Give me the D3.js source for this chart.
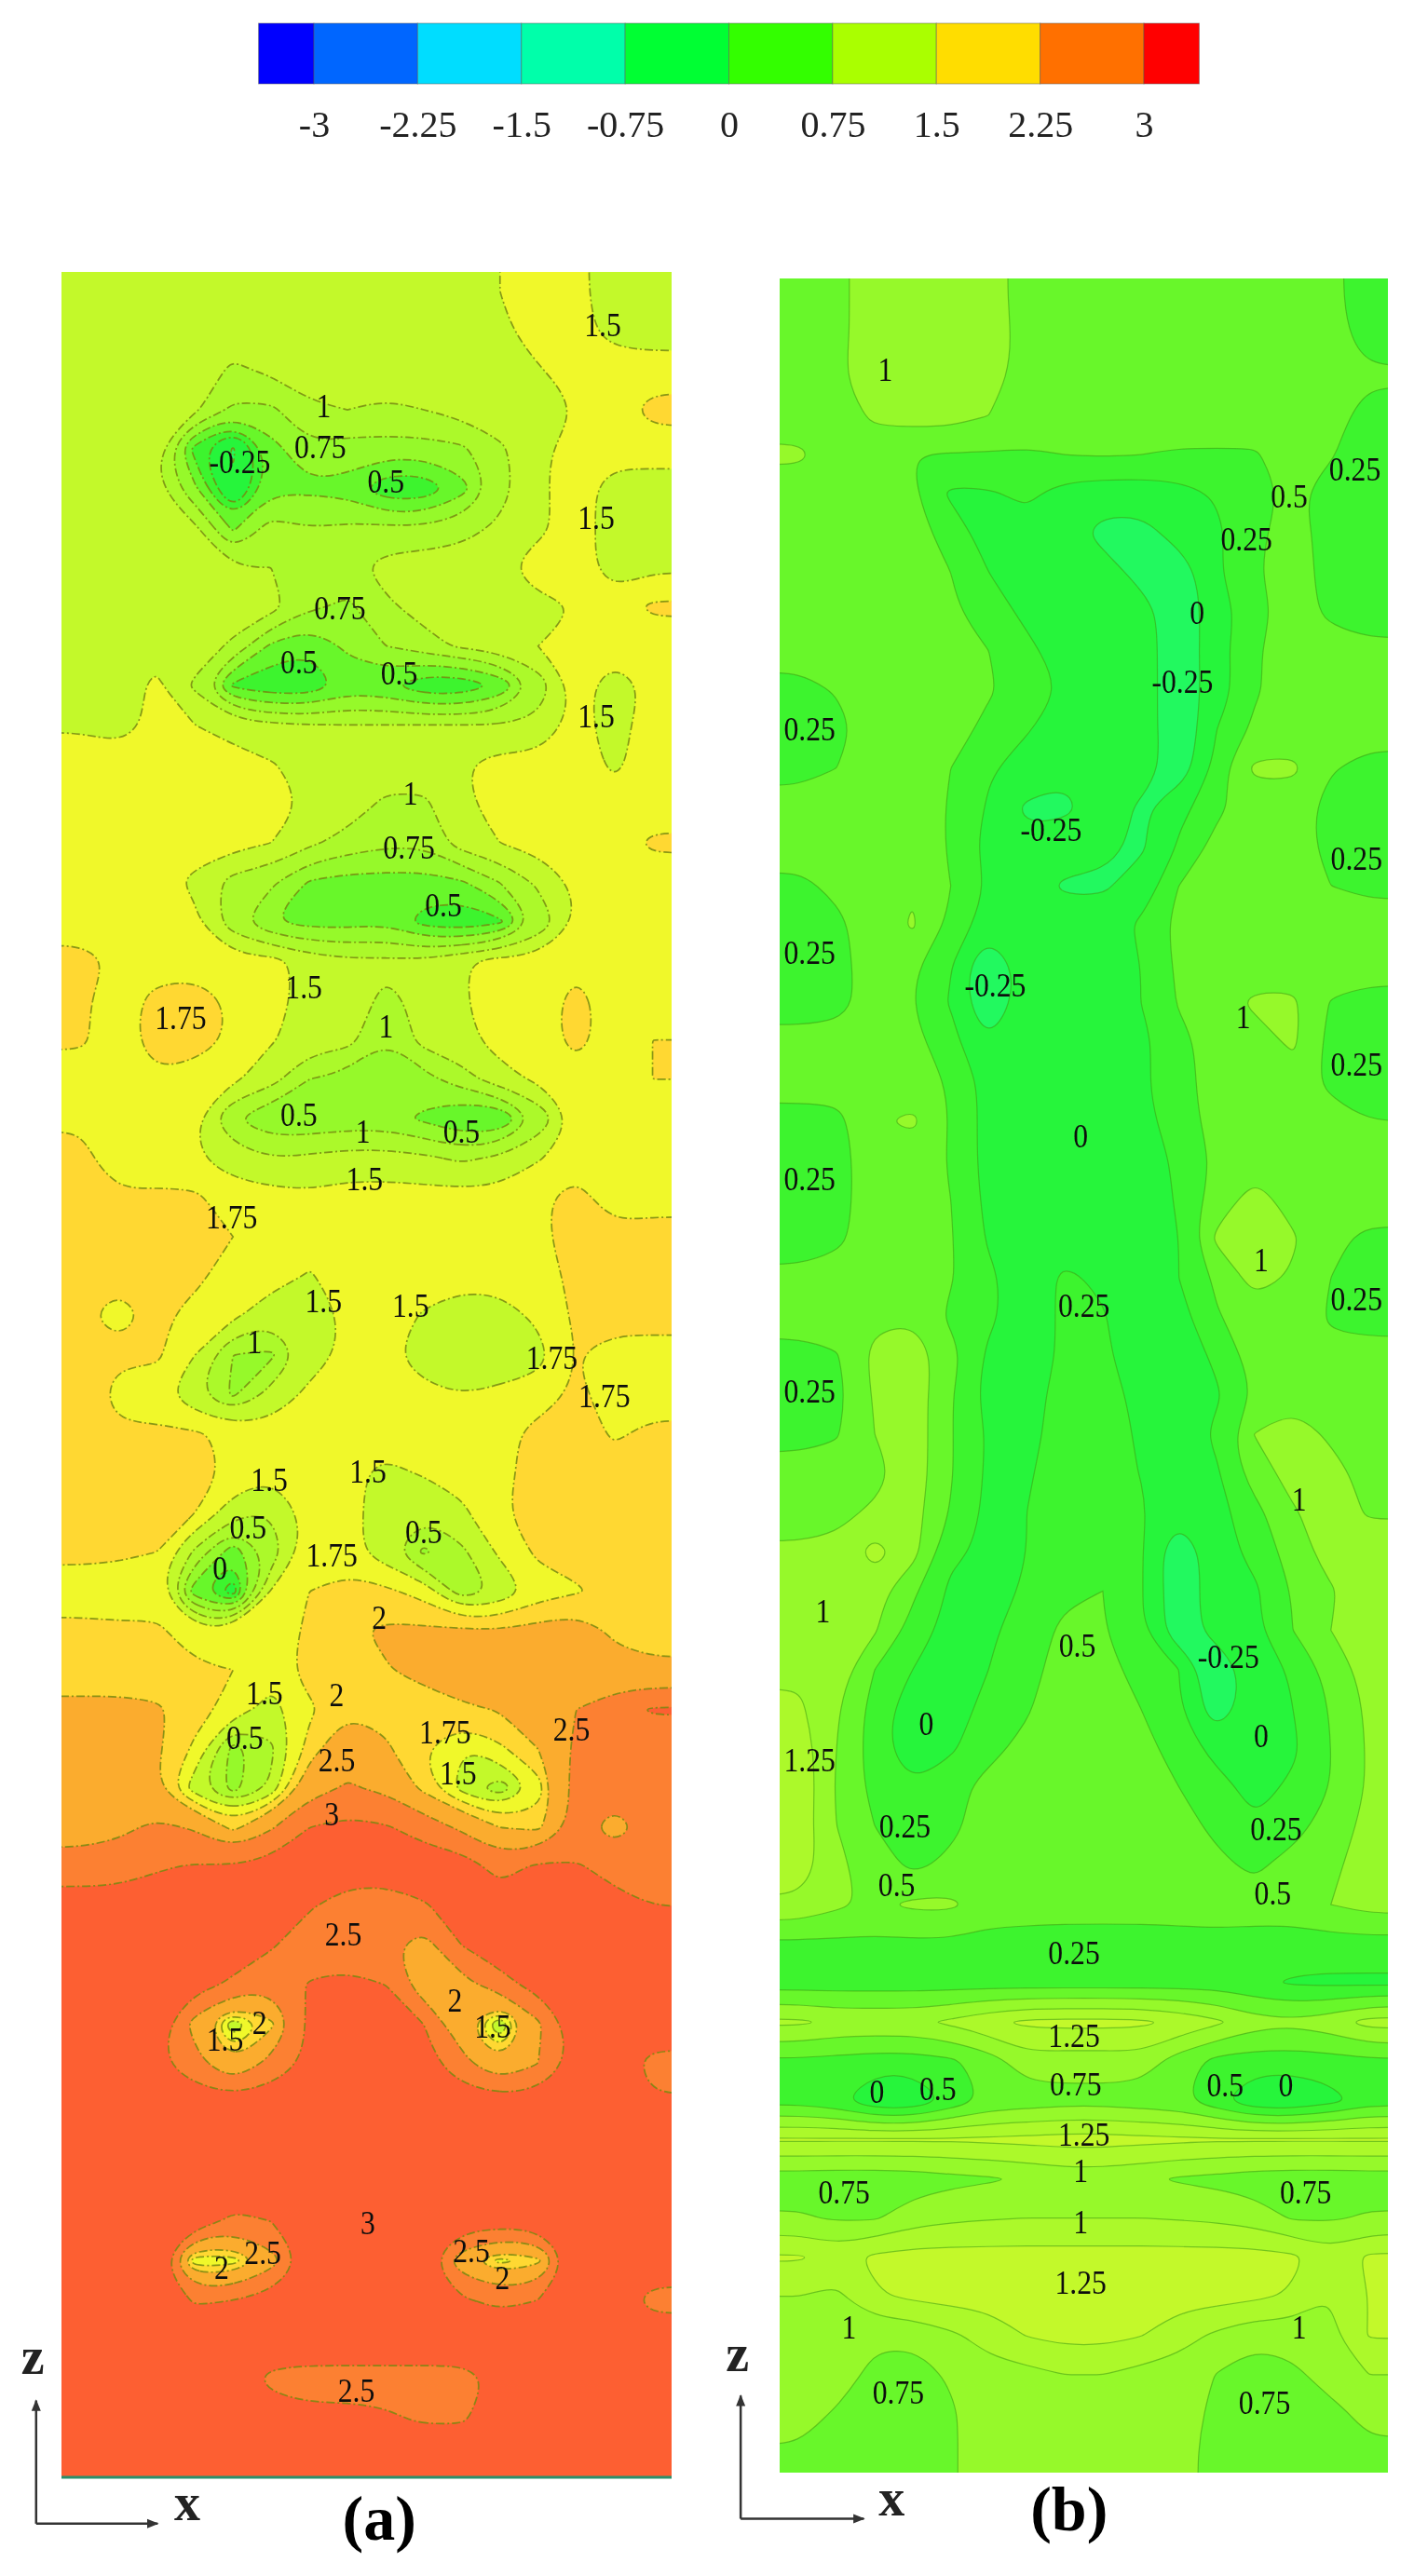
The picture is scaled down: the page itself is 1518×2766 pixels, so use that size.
<!DOCTYPE html>
<html lang="en">

<head>
    <meta charset="UTF-8">
    <title>Contours</title>
    <style>
        body {
            margin: 0;
            background: #fff;
            overflow: hidden;
        }

        text {
            font-family: "Liberation Serif", serif;
        }
    </style>
</head>

<body>
    <svg id="graph" width="1518" height="2766"></svg>
    <script src="https://cdn.jsdelivr.net/npm/d3@7"></script>
    <script>
        // legend
        const legendTicks = [-3, -2.25, -1.5, -0.75, 0, 0.75, 1.5, 2.25, 3];
        const legendColors = ["#0000ff", "#0066ff", "#00ddff", "#00ffaa", "#00ff33", "#33ff00", "#aaff00", "#ffdd00", "#ff7000", "#ff0000"];
        const legendEnds = [-3.4, 3.4];

        // flood levels shared by both panels
        const levels = [-0.25, 0.25, 0.5, 0.75, 1, 1.25, 1.5, 1.75, 2, 2.5, 3];
        const levelColors = ["#24f95f", "#27f53b", "#3df42e", "#68f72b", "#96f92a", "#acf92b", "#c3f92c", "#f0f82c", "#ffd830", "#fbac2e", "#fc8030", "#fd5f30"];

        // panel (a), top row first
        const fieldA = [
            [1.4, 1.4, 1.4, 1.4, 1.4, 1.4, 1.4, 1.4, 1.4, 1.4, 1.4, 1.5, 1.6, 1.55, 1.4, 1.4],
            [1.4, 1.4, 1.4, 1.4, 1.4, 1.4, 1.4, 1.4, 1.4, 1.4, 1.4, 1.45, 1.6, 1.6, 1.4, 1.4],
            [1.4, 1.4, 1.4, 1.4, 1.2, 1.3, 1.4, 1.4, 1.4, 1.4, 1.4, 1.42, 1.48, 1.6, 1.65, 1.6],
            [1.4, 1.4, 1.4, 1.3, .95, .95, 1.2, 1.25, 1.2, 1.25, 1.35, 1.42, 1.45, 1.5, 1.6, 1.85],
            [1.4, 1.4, 1.3, .4, -.3, .65, .95, .9, .9, .9, .95, 1.2, 1.45, 1.6, 1.6, 1.6],
            [1.4, 1.4, 1.3, .8, -.2, .7, .7, .65, .3, .3, .65, 1.15, 1.46, 1.6, 1.4, 1.4],
            [1.4, 1.4, 1.4, 1.3, .7, 1.1, 1, 1.05, 1.05, 1.05, 1.15, 1.3, 1.45, 1.6, 1.4, 1.4],
            [1.4, 1.4, 1.4, 1.4, 1.25, 1.25, 1.1, 1.15, 1.35, 1.4, 1.4, 1.45, 1.6, 1.6, 1.4, 1.45],
            [1.4, 1.4, 1.4, 1.4, 1.4, 1.35, 1.05, .95, 1.2, 1.35, 1.4, 1.42, 1.45, 1.5, 1.6, 1.8],
            [1.42, 1.4, 1.4, 1.4, 1.2, .7, .55, .8, 1, 1.15, 1.3, 1.4, 1.5, 1.55, 1.6, 1.6],
            [1.45, 1.4, 1.55, 1.2, .45, .3, .3, .6, .55, .3, .3, .55, 1.1, 1.58, 1.4, 1.55],
            [1.45, 1.42, 1.55, 1.5, 1.4, 1.3, 1.25, 1.25, 1.25, 1.25, 1.25, 1.25, 1.3, 1.6, 1.38, 1.65],
            [1.7, 1.6, 1.6, 1.6, 1.6, 1.52, 1.4, 1.4, 1.4, 1.4, 1.48, 1.6, 1.6, 1.6, 1.46, 1.6],
            [1.6, 1.6, 1.6, 1.6, 1.6, 1.6, 1.47, 1.4, 1.2, 1.2, 1.45, 1.6, 1.6, 1.6, 1.6, 1.6],
            [1.65, 1.6, 1.6, 1.6, 1.6, 1.5, 1.3, 1.15, 1.05, 1.05, 1.38, 1.5, 1.6, 1.6, 1.6, 1.8],
            [1.6, 1.6, 1.6, 1.45, 1.15, 1.05, .72, .65, .65, .65, .72, 1, 1.3, 1.55, 1.6, 1.6],
            [1.6, 1.6, 1.6, 1.55, 1.1, .75, .65, .65, .7, .4, .3, .45, 1.05, 1.5, 1.6, 1.6],
            [1.85, 1.7, 1.6, 1.6, 1.6, 1.6, 1.4, 1.3, 1.3, 1.3, 1.48, 1.6, 1.6, 1.65, 1.6, 1.6],
            [1.8, 1.6, 1.85, 1.9, 1.7, 1.55, 1.45, 1.35, 1.2, 1.3, 1.48, 1.6, 1.6, 1.85, 1.6, 1.6],
            [1.8, 1.6, 1.9, 1.9, 1.7, 1.52, 1.4, 1.35, 1, 1.35, 1.42, 1.6, 1.6, 1.85, 1.6, 1.75],
            [1.6, 1.6, 1.7, 1.6, 1.55, 1.35, 1, .9, .85, .9, 1.15, 1.4, 1.55, 1.6, 1.6, 1.75],
            [1.7, 1.6, 1.6, 1.52, 1, .8, .8, .85, .85, .7, .5, .5, 1.05, 1.55, 1.6, 1.6],
            [1.85, 1.55, 1.6, 1.52, 1.4, 1.25, 1.3, 1.35, 1.35, 1.3, 1.2, 1.3, 1.48, 1.6, 1.6, 1.6],
            [1.8, 1.8, 1.8, 1.8, 1.6, 1.6, 1.55, 1.6, 1.6, 1.6, 1.6, 1.6, 1.7, 1.85, 1.6, 1.7],
            [1.8, 1.8, 1.8, 1.8, 1.75, 1.6, 1.6, 1.6, 1.6, 1.6, 1.6, 1.6, 1.7, 1.85, 1.85, 1.8],
            [1.8, 1.8, 1.8, 1.8, 1.65, 1.6, 1.48, 1.6, 1.6, 1.6, 1.6, 1.6, 1.7, 1.78, 1.85, 1.95],
            [1.78, 1.68, 1.8, 1.68, 1.55, 1.35, 1.35, 1.55, 1.6, 1.48, 1.35, 1.4, 1.55, 1.8, 1.8, 1.8],
            [1.8, 1.8, 1.8, 1.5, 1, .95, 1.4, 1.55, 1.55, 1.4, 1.35, 1.35, 1.42, 1.75, 1.7, 1.7],
            [1.95, 1.65, 1.6, 1.3, .95, 1.35, 1.55, 1.6, 1.6, 1.55, 1.5, 1.55, 1.6, 1.8, 1.65, 1.65],
            [1.8, 1.8, 1.8, 1.78, 1.7, 1.6, 1.6, 1.6, 1.6, 1.6, 1.6, 1.65, 1.85, 1.85, 1.72, 1.8],
            [1.8, 1.8, 1.8, 1.85, 1.7, 1.55, 1.6, 1.55, 1.45, 1.52, 1.6, 1.68, 1.85, 1.85, 1.85, 1.9],
            [1.8, 1.8, 1.8, 1.75, 1.35, 1.25, 1.6, 1.6, 1.35, 1.3, 1.45, 1.72, 1.85, 1.85, 1.8, 1.95],
            [1.8, 1.8, 1.75, 1.2, .6, 1.1, 1.65, 1.6, 1.35, .95, 1.2, 1.55, 1.8, 1.85, 1.85, 1.85],
            [1.65, 1.6, 1.6, .6, .1, 1.52, 1.75, 1.85, 1.8, 1.65, 1.1, 1.3, 1.62, 1.72, 1.85, 1.85],
            [1.8, 1.8, 1.8, 1.6, 1.6, 1.6, 1.8, 1.95, 2.05, 2.05, 2.05, 2.02, 2.1, 2.15, 1.95, 1.9],
            [1.8, 1.8, 1.8, 1.8, 1.75, 1.6, 1.85, 1.9, 1.98, 2.1, 2.2, 2.2, 2.2, 2.2, 2.1, 2.05],
            [2.1, 2.1, 2.05, 1.85, 1.65, 1.4, 1.7, 1.95, 1.9, 1.85, 1.95, 2.02, 2.2, 2.5, 2.8, 3.05],
            [2.1, 2.1, 2.05, 1.7, .9, 1.2, 1.85, 2.3, 2.05, 1.75, 1.5, 1.7, 2, 2.6, 2.7, 2.7],
            [2.1, 2.1, 2, 1.35, .9, 1.3, 2.3, 2.55, 2.4, 1.9, 1.4, 1.1, 1.6, 2.7, 2.75, 2.75],
            [2.3, 2.4, 2.6, 2.45, 1.9, 2.45, 3, 3.15, 3.05, 2.8, 2.4, 2, 1.9, 2.7, 2.3, 2.7],
            [2.7, 2.75, 2.95, 3.05, 3.05, 3.2, 3.3, 3.3, 3.3, 3.3, 3.3, 2.8, 3.1, 3.05, 2.85, 2.75],
            [3.3, 3.3, 3.3, 3.3, 3.3, 3.3, 3.05, 2.75, 2.7, 2.95, 3.2, 3.3, 3.3, 3.3, 3.15, 3],
            [3.3, 3.3, 3.3, 3.3, 3.3, 3.05, 2.7, 2.6, 2.6, 2.3, 3, 3.3, 3.3, 3.3, 3.3, 3.3],
            [3.3, 3.3, 3.3, 3.2, 2.9, 2.65, 3.05, 3.2, 3, 2.2, 2.3, 2.8, 3.2, 3.3, 3.3, 3.3],
            [3.3, 3.3, 3.3, 2.3, 1.3, 1.9, 3.1, 3.3, 3.3, 3, 2.1, 1.25, 2.4, 3.3, 3.3, 3.3],
            [3.3, 3.3, 3.1, 2.7, 2, 2.7, 3.1, 3.3, 3.3, 3.2, 2.7, 2, 2.5, 3.2, 3.3, 2.85],
            [3.3, 3.3, 3.3, 3.3, 3.3, 3.3, 3.3, 3.3, 3.3, 3.3, 3.3, 3.3, 3.3, 3.3, 3.3, 3.05],
            [3.3, 3.3, 3.3, 3.3, 3.3, 3.3, 3.3, 3.3, 3.3, 3.3, 3.3, 3.3, 3.3, 3.3, 3.3, 3.3],
            [3.3, 3.3, 3.3, 3.3, 3.3, 3.3, 3.3, 3.3, 3.3, 3.3, 3.3, 3.3, 3.3, 3.3, 3.3, 3.3],
            [3.3, 3.3, 3.3, 3.3, 2.9, 3, 3.3, 3.3, 3.3, 3.3, 3.3, 3.3, 3.3, 3.3, 3.3, 3.3],
            [3.3, 3.3, 3.2, 1.55, 1.6, 2.3, 3.2, 3.3, 3.3, 3.2, 2.2, 1.65, 1.9, 3.3, 3.3, 3.3],
            [3.3, 3.3, 3.3, 2.95, 3, 3.2, 3.3, 3.3, 3.3, 3.3, 3.05, 2.9, 3, 3.3, 3.3, 2.85],
            [3.3, 3.3, 3.3, 3.3, 3.3, 3.3, 3.3, 3.3, 3.3, 3.3, 3.3, 3.3, 3.3, 3.3, 3.3, 3.3],
            [3.3, 3.3, 3.3, 3.3, 3.3, 2.9, 2.85, 2.85, 2.85, 2.85, 2.85, 3.1, 3.3, 3.3, 3.3, 3.3],
            [3.3, 3.3, 3.3, 3.3, 3.3, 3.2, 3.1, 3.1, 3.05, 2.95, 2.95, 3.2, 3.3, 3.3, 3.3, 3.3],
            [3.3, 3.3, 3.3, 3.3, 3.3, 3.3, 3.3, 3.3, 3.3, 3.3, 3.3, 3.3, 3.3, 3.3, 3.3, 3.3]
        ];

        // panel (b), same layout
        const fieldB = [
            [.6, .7, .85, .85, .85, .85, .65, .6, .6, .6, .6, .6, .6, .6, .55, .4],
            [.6, .7, .85, .85, .85, .85, .68, .6, .6, .6, .6, .6, .6, .6, .55, .45],
            [.6, .72, .85, .85, .85, .85, .65, .6, .6, .6, .6, .6, .6, .6, .6, .52],
            [.62, .62, .8, .85, .85, .75, .6, .6, .6, .6, .6, .6, .6, .6, .55, .45],
            [.8, .6, .6, .5, .48, .48, .48, .5, .52, .5, .48, .48, .48, .6, .52, .35],
            [.6, .6, .6, .55, .2, .22, .3, .15, .1, .1, .15, .28, .42, .55, .4, .35],
            [.6, .6, .6, .58, .42, .1, .15, .15, -.5, -.5, 0, .2, .45, .6, .4, .35],
            [.6, .6, .6, .6, .5, .25, .1, .1, .1, -.5, -.6, .22, .48, .6, .42, .38],
            [.6, .6, .6, .6, .55, .35, .2, .1, .1, .05, -.7, .1, .42, .6, .45, .4],
            [.6, .6, .6, .6, .58, .5, .3, .15, .1, .1, -.7, .15, .48, .6, .6, .55],
            [.42, .52, .62, .7, .6, .52, .42, .22, .1, .1, -.7, .1, .47, .62, .62, .6],
            [.38, .42, .62, .62, .58, .45, .27, .12, .1, .1, -.7, .25, .55, .62, .62, .6],
            [.42, .5, .62, .62, .5, .28, .15, -.1, -.05, .1, -.6, .4, .8, .8, .52, .42],
            [.6, .6, .62, .62, .48, .22, -.35, -.4, .1, -.35, .15, .45, .62, .62, .42, .38],
            [.6, .6, .6, .62, .48, .15, -.1, .1, -.1, -.35, .3, .58, .62, .62, .42, .38],
            [.45, .55, .62, .72, .5, .22, .1, -.35, -.35, .05, .5, .62, .62, .62, .5, .45],
            [.42, .45, .62, .78, .45, .1, .1, .1, .1, .3, .58, .62, .62, .62, .62, .6],
            [.4, .42, .62, .55, .27, -.8, .1, .1, .1, .25, .55, .62, .62, .62, .62, .6],
            [.38, .42, .6, .5, .22, -.8, .1, .1, .1, .25, .52, .62, .8, .8, .48, .42],
            [.6, .6, .62, .55, .4, -.22, .1, .1, .1, .18, .42, .62, .62, .8, .42, .38],
            [.62, .62, .62, .6, .48, .15, .1, .1, .1, .2, .42, .6, .62, .62, .45, .42],
            [.4, .42, .72, .8, .48, .15, .1, .1, .1, .15, .4, .58, .62, .62, .58, .5],
            [.38, .42, .62, .62, .48, .15, .1, .1, .1, .1, .3, .55, .62, .62, .62, .62],
            [.38, .42, .62, .62, .5, .18, .1, .1, .1, .1, .28, .62, .85, .65, .62, .62],
            [.4, .45, .62, .62, .52, .22, .1, .1, .1, .1, .25, .8, .9, .78, .55, .45],
            [.55, .6, .62, .62, .52, .3, .1, .3, .2, .1, .25, .55, .85, .72, .5, .4],
            [.6, .62, .7, .72, .45, .3, .1, .3, .27, .1, .15, .48, .62, .72, .45, .42],
            [.42, .48, .82, .9, .6, .2, .1, .3, .3, .1, .1, .3, .62, .65, .6, .58],
            [.38, .42, .78, .9, .52, .15, .15, .35, .35, .18, .1, .22, .52, .65, .62, .62],
            [.42, .48, .75, .9, .52, .22, .18, .35, .35, .22, .1, .3, .76, .9, .7, .62],
            [.6, .6, .65, .9, .52, .2, .22, .38, .38, .24, .1, .22, .62, .85, .85, .65],
            [.62, .68, .8, .85, .48, .18, .25, .42, .42, .3, -.05, .15, .42, .72, .88, .72],
            [.8, .82, 1.1, .85, .3, .2, .25, .42, .45, .3, -.7, .1, .35, .6, .88, .9],
            [.82, .85, .85, .55, .2, .1, .3, .45, .5, .3, -.6, .05, .2, .52, .72, .92],
            [.85, .92, .78, .4, .15, .2, .38, .55, .52, .3, -.6, 0, .2, .5, .75, .88],
            [.95, .9, .5, .25, .1, .25, .42, .6, .58, .42, .25, -.7, .1, .28, .6, .85],
            [1.05, .78, .4, .1, .1, .35, .48, .62, .62, .5, .3, -.6, .1, .25, .52, .8],
            [1.15, .75, .38, .05, .2, .45, .55, .62, .62, .58, .4, .15, .05, .2, .5, .78],
            [1.2, .72, .42, .27, .45, .55, .62, .62, .62, .62, .5, .35, .15, .3, .5, .78],
            [1.15, .75, .5, .35, .45, .6, .62, .62, .62, .62, .58, .45, .28, .4, .62, .82],
            [1.15, .82, .6, .45, .55, .62, .62, .62, .62, .62, .62, .55, .45, .6, .68, .9],
            [.95, .8, .7, .8, .8, .62, .62, .62, .62, .62, .62, .62, .62, .62, .75, .85],
            [.45, .45, .45, .45, .45, .42, .4, .38, .38, .38, .4, .42, .4, .4, .4, .4],
            [.38, .38, .38, .38, .38, .38, .38, .38, .38, .38, .38, .38, .3, .22, .2, .2],
            [1.05, .95, .95, .95, 1.05, 1.2, 1.3, 1.32, 1.32, 1.3, 1.2, 1.05, .85, .8, .9, 1.1],
            [.45, .42, .38, .38, .45, .62, .9, .88, .88, .9, .62, .42, .38, .38, .4, .45],
            [.4, .3, 0, 0, .3, .55, .6, .65, .65, .6, .55, .3, 0, 0, .15, .38],
            [1.28, 1.28, 1.28, 1.28, 1.28, 1.3, 1.32, 1.35, 1.35, 1.32, 1.3, 1.28, 1.28, 1.28, 1.28, 1.28],
            [.62, .6, .6, .62, .68, .72, .78, .85, .85, .8, .72, .68, .62, .6, .6, .62],
            [.78, .72, .72, .88, .95, .98, 1, 1, 1, 1, .98, .95, .88, .72, .72, .78],
            [1.28, 1.15, 1.3, 1.35, 1.35, 1.35, 1.35, 1.35, 1.35, 1.35, 1.35, 1.35, 1.35, 1.3, 1.1, 1.3],
            [1, .95, 1.22, 1.3, 1.35, 1.35, 1.35, 1.35, 1.35, 1.35, 1.35, 1.35, 1.3, 1.22, 1, 1.25],
            [.9, .9, .8, .8, .95, 1.1, 1.26, 1.33, 1.33, 1.26, 1.1, .95, .8, .85, .95, 1.27],
            [.9, .88, .68, .65, .78, .9, .92, 1, 1, .92, .88, .74, .65, .7, .85, 1],
            [.85, .72, .65, .62, .72, .88, .9, .9, .9, .9, .88, .68, .62, .62, .68, .82],
            [.72, .65, .62, .62, .72, .88, .9, .9, .9, .9, .85, .65, .62, .62, .62, .7]
        ];

        // contour labels: text, then x and y in the shrunk reference
        const labelsA = [
            ["1.5", 367, 198], ["1", 197, 247], ["0.75", 195, 272], ["-0.25", 146, 281], ["0.5", 235, 293],
            ["1.5", 363, 315], ["0.75", 207, 370], ["0.5", 182, 403], ["0.5", 243, 410], ["1.5", 363, 436],
            ["1", 250, 483], ["0.75", 249, 516], ["0.5", 270, 551], ["1.5", 185, 601], ["1.75", 110, 620],
            ["1", 235, 625], ["0.5", 182, 679], ["1", 221, 689], ["0.5", 281, 689], ["1.5", 222, 718],
            ["1.75", 141, 741], ["1.5", 197, 792], ["1.5", 250, 795], ["1", 155, 817], ["1.75", 336, 827],
            ["1.75", 368, 850], ["1.5", 164, 901], ["1.5", 224, 896], ["0.5", 151, 930], ["0.5", 258, 933],
            ["0", 134, 955], ["1.75", 202, 947], ["2", 231, 985], ["1.5", 161, 1031], ["2", 205, 1032],
            ["0.5", 149, 1058], ["1.75", 271, 1055], ["2.5", 348, 1053], ["2.5", 205, 1072], ["1.5", 279, 1080],
            ["3", 202, 1105], ["2.5", 209, 1178], ["2", 277, 1218], ["2", 158, 1232], ["1.5", 137, 1242],
            ["1.5", 300, 1234], ["3", 224, 1354], ["2.5", 160, 1372], ["2", 135, 1381], ["2.5", 287, 1371],
            ["2", 306, 1387], ["2.5", 217, 1456]
        ];
        const labelsB = [
            ["1", 539, 225], ["0.25", 825, 286], ["0.5", 785, 302], ["0.25", 759, 328], ["0", 729, 373],
            ["-0.25", 720, 415], ["0.25", 493, 444], ["-0.25", 640, 505], ["0.25", 826, 523], ["0.25", 493, 580],
            ["-0.25", 606, 600], ["1", 757, 619], ["0.25", 826, 648], ["0", 658, 692], ["0.25", 493, 718],
            ["1", 768, 767], ["0.25", 660, 795], ["0.25", 826, 791], ["0.25", 493, 847], ["1", 791, 913],
            ["1", 501, 981], ["0.5", 656, 1002], ["-0.25", 748, 1009], ["0", 564, 1050], ["0", 768, 1057],
            ["1.25", 493, 1072], ["0.25", 551, 1112], ["0.25", 777, 1114], ["0.5", 546, 1148], ["0.5", 775, 1153],
            ["0.25", 654, 1189], ["1.25", 654, 1240], ["0", 534, 1274], ["0.5", 571, 1272], ["0.75", 655, 1269],
            ["0.5", 746, 1270], ["0", 783, 1270], ["1.25", 660, 1300], ["1", 658, 1322], ["0.75", 514, 1335],
            ["0.75", 795, 1335], ["1", 658, 1353], ["1.25", 658, 1390], ["1", 517, 1417], ["1", 791, 1417],
            ["0.75", 547, 1457], ["0.75", 770, 1463]
        ];

        const k = 1518 / 861;
        const svg = d3.select("#graph");

        const defs = svg.append("defs");
        defs.append("filter").attr("id", "soft")
            .attr("x", "-2%").attr("y", "-2%").attr("width", "104%").attr("height", "104%")
            .append("feGaussianBlur").attr("stdDeviation", 0.7);
        defs.append("filter").attr("id", "softText")
            .append("feGaussianBlur").attr("stdDeviation", 0.45);
        defs.append("marker").attr("id", "head")
            .attr("viewBox", "0 -5 10 10").attr("refX", 9).attr("refY", 0)
            .attr("markerWidth", 5).attr("markerHeight", 5).attr("orient", "auto")
            .append("path").attr("d", "M0,-4L10,0L0,4Z").attr("fill", "#333");

        drawLegend();
        drawPanel("a", fieldA, labelsA, { left: 66, right: 721, top: 292, bottom: 2660 },
            { stroke: "#77880f", opacity: 0.85, width: 1.7, dash: "9 3 2 3" });
        drawPanel("b", fieldB, labelsB, { left: 837, right: 1490, top: 299, bottom: 2655 },
            { stroke: "#3c9a14", opacity: 0.55, width: 1.2, dash: null });

        // bottom edge of panel a
        svg.append("line")
            .attr("x1", 66).attr("x2", 721).attr("y1", 2660).attr("y2", 2660)
            .attr("stroke", "#2a8f6a").attr("stroke-width", 3);

        drawAxes(22 * k, 1537 * k, 1462 * k, 96 * k, [20 * k, 1446 * k], [114 * k, 1535 * k]);
        drawAxes(451 * k, 1534 * k, 1459 * k, 526 * k, [449 * k, 1444 * k], [543 * k, 1532 * k]);

        svg.append("text").attr("x", 231 * k).attr("y", 1547 * k).attr("text-anchor", "middle")
            .attr("font-size", 68).attr("font-weight", "bold").text("(a)");
        svg.append("text").attr("x", 651 * k).attr("y", 1541 * k).attr("text-anchor", "middle")
            .attr("font-size", 68).attr("font-weight", "bold").text("(b)");

        function drawLegend() {
            const x = d3.scaleLinear().domain([-3, 3]).range([337, 1228]);
            const stops = [legendEnds[0]].concat(legendTicks, [legendEnds[1]]);
            svg.append("g").selectAll("rect")
                .data(legendColors)
                .enter()
                .append("rect")
                .attr("x", (d, i) => x(stops[i]))
                .attr("width", (d, i) => x(stops[i + 1]) - x(stops[i]))
                .attr("y", 25)
                .attr("height", 65)
                .attr("fill", d => d)
                .attr("stroke", "#555")
                .attr("stroke-opacity", 0.5)
                .attr("stroke-width", 1);

            const axis = d3.axisBottom(x).tickValues(legendTicks).tickSize(0).tickFormat(d => String(d));
            const g = svg.append("g").attr("transform", "translate(0,116)").call(axis);
            g.select(".domain").remove();
            g.selectAll("text")
                .attr("font-family", "Liberation Serif")
                .attr("font-size", 40)
                .attr("fill", "#222")
                .attr("filter", "url(#softText)");
        }

        function drawPanel(name, field, labels, box, line) {
            const nx = field[0].length;
            const ny = field.length;
            const pad = 3;

            // repeat the edge cells so smoothed rings run past the clip
            const values = [];
            for (let j = -pad; j < ny + pad; j++) {
                const row = field[Math.max(0, Math.min(ny - 1, j))];
                for (let i = -pad; i < nx + pad; i++) {
                    values.push(row[Math.max(0, Math.min(nx - 1, i))]);
                }
            }

            const x = d3.scaleLinear().domain([pad, nx + pad]).range([box.left, box.right]);
            const y = d3.scaleLinear().domain([pad, ny + pad]).range([box.top, box.bottom]);

            const contours = d3.contours()
                .size([nx + 2 * pad, ny + 2 * pad])
                .thresholds(levels)(values);

            const ring = d3.line()
                .curve(d3.curveBasisClosed)
                .x(d => x(d[0]))
                .y(d => y(d[1]));
            const pathOf = c => c.coordinates
                .map(poly => poly.map(r => ring(r.slice(0, -1))).join(""))
                .join("");

            defs.append("clipPath").attr("id", "clip-" + name)
                .append("rect")
                .attr("x", box.left).attr("y", box.top)
                .attr("width", box.right - box.left)
                .attr("height", box.bottom - box.top);

            const g = svg.append("g")
                .attr("clip-path", "url(#clip-" + name + ")");
            const inner = g.append("g").attr("filter", "url(#soft)");

            inner.append("rect")
                .attr("x", box.left).attr("y", box.top)
                .attr("width", box.right - box.left)
                .attr("height", box.bottom - box.top)
                .attr("fill", levelColors[0]);

            inner.selectAll("path.band")
                .data(contours)
                .enter()
                .append("path")
                .attr("class", "band")
                .attr("d", pathOf)
                .attr("fill-rule", "evenodd")
                .attr("fill", (d, i) => levelColors[i + 1]);

            inner.selectAll("path.edge")
                .data(contours)
                .enter()
                .append("path")
                .attr("class", "edge")
                .attr("d", pathOf)
                .attr("fill", "none")
                .attr("stroke", line.stroke)
                .attr("stroke-opacity", line.opacity)
                .attr("stroke-width", line.width)
                .attr("stroke-dasharray", line.dash);

            // the labels in the source are narrow and tall
            svg.append("g").attr("filter", "url(#softText)").selectAll("text")
                .data(labels)
                .enter()
                .append("text")
                .attr("transform", d => "translate(" + d[1] * k + "," + d[2] * k + ") scale(0.88,1)")
                .attr("dy", "0.34em")
                .attr("text-anchor", "middle")
                .attr("font-size", 36)
                .attr("fill", "#111")
                .text(d => d[0]);
        }

        function drawAxes(x0, y0, yTop, xEnd, zPos, xPos) {
            const g = svg.append("g");
            g.append("line")
                .attr("x1", x0).attr("y1", y0).attr("x2", x0).attr("y2", yTop)
                .attr("stroke", "#333").attr("stroke-width", 2.5).attr("marker-end", "url(#head)");
            g.append("line")
                .attr("x1", x0).attr("y1", y0).attr("x2", xEnd).attr("y2", y0)
                .attr("stroke", "#333").attr("stroke-width", 2.5).attr("marker-end", "url(#head)");
            g.append("text").attr("x", zPos[0]).attr("y", zPos[1]).attr("text-anchor", "middle")
                .attr("font-size", 56).attr("font-weight", "bold").attr("fill", "#222").text("z");
            g.append("text").attr("x", xPos[0]).attr("y", xPos[1]).attr("text-anchor", "middle")
                .attr("font-size", 56).attr("font-weight", "bold").attr("fill", "#222").text("x");
        }
    </script>
</body>

</html>
